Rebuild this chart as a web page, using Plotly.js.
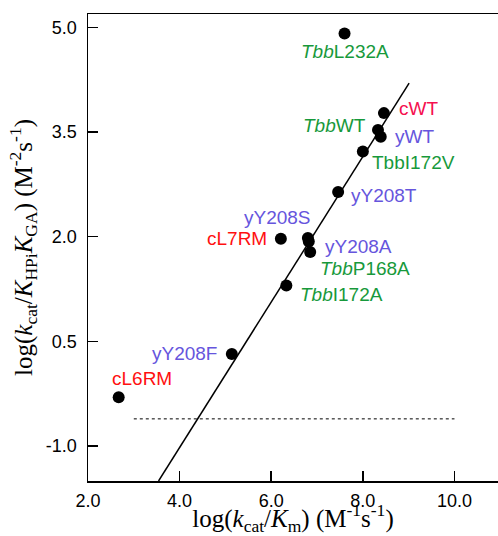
<!DOCTYPE html>
<html><head><meta charset="utf-8">
<script src="https://cdn.plot.ly/plotly-3.0.1.min.js"></script>
<style>html,body{margin:0;padding:0;background:#fff}</style>
</head><body><div id="chart" style="width:498px;height:536px"></div>
<script>
// ---- data ----
const pointNames = ["<i>Tbb</i>L232A","cWT","<i>Tbb</i>WT","yWT","TbbI172V","yY208T","yY208S","cL7RM","yY208A","<i>Tbb</i>P168A","<i>Tbb</i>I172A","yY208F","cL6RM"];
const logKcatKm = [7.60, 8.46, 8.33, 8.39, 8.00, 7.46, 6.80, 6.21, 6.82, 6.85, 6.33, 5.14, 2.67];
const logKcatKK = [4.91, 3.77, 3.53, 3.43, 3.22, 2.64, 1.98, 1.97, 1.93, 1.78, 1.30, 0.32, -0.30];
const groups = ["Tbb","c","Tbb","y","Tbb","y","y","c","y","Tbb","Tbb","y","c"];
const fitX = [3.54, 9.01];
const fitY = [-1.5, 4.20];
const baseX = [3.0, 10.0];
const baseY = [-0.61, -0.61];
const xTickVals = [2, 4, 6, 8, 10];
const xTickText = ["2.0","4.0","6.0","8.0","10.0"];
const yTickVals = [-1.0, 0.5, 2.0, 3.5, 5.0];
const yTickText = ["-1.0","0.5","2.0","3.5","5.0"];

// ---- styles ----
const groupColor = {Tbb:"#17993b", y:"#6655dd", c:"#ff1010"};
const specialColor = {1:"#f5104f"};
const labelPlace = [
  {xa:"center", dx:0, dy:-18},
  {xa:"left", dx:13, dy:5},
  {xa:"right", dx:-10, dy:4},
  {xa:"left", dx:12, dy:0},
  {xa:"left", dx:7, dy:-11},
  {xa:"left", dx:11, dy:-3},
  {xa:"right", dx:5, dy:21},
  {xa:"right", dx:-12, dy:0},
  {xa:"left", dx:14, dy:-5},
  {xa:"left", dx:8, dy:-16},
  {xa:"left", dx:12, dy:-9},
  {xa:"right", dx:-13, dy:0},
  {xa:"center", dx:23, dy:19}
];
const labelFont = "Liberation Sans, Arial, sans-serif";
const serif = "Liberation Serif, Times New Roman, serif";

const traces = [
  {x: fitX, y: fitY, mode:"lines", line:{color:"#000", width:1.5}, hoverinfo:"skip"},
  {x: baseX, y: baseY, mode:"lines", line:{color:"#000", width:1, dash:"dot"}, hoverinfo:"skip"},
  {x: logKcatKm, y: logKcatKK, mode:"markers", marker:{color:"#000", size:12}, cliponaxis:false}
];

const annotations = pointNames.map((n,i)=>({
  x: logKcatKm[i], y: logKcatKK[i], xref:"x", yref:"y",
  text: n, showarrow:false,
  xanchor: labelPlace[i].xa, yanchor:"middle",
  xshift: labelPlace[i].dx, yshift: labelPlace[i].dy,
  font:{family: labelFont, size:19, color: specialColor[i] || groupColor[groups[i]]}
}));

const layout = {
  width:498, height:536,
  margin:{l:88, r:0, t:14, b:55},
  paper_bgcolor:"#fff", plot_bgcolor:"#fff",
  showlegend:false,
  font:{family: labelFont, color:"#000"},
  xaxis:{
    range:[2, 10.95], showgrid:false, zeroline:false,
    showline:true, linecolor:"#000", linewidth:1.5, mirror:true,
    ticks:"inside", ticklen:10, tickwidth:1.5, tickcolor:"#000",
    tickvals: xTickVals, ticktext: xTickText,
    tickfont:{family: labelFont, size:18, color:"#000"},
    ticklabelstandoff: 3,
    title:{text:"log(<i>k</i><sub>cat</sub>/<i>K</i><sub>m</sub>) (M<sup>-1</sup>s<sup>-1</sup>)",
      font:{family: serif, size:25, color:"#000"}, standoff:2}
  },
  yaxis:{
    range:[-1.5, 5.19], showgrid:false, zeroline:false,
    showline:true, linecolor:"#000", linewidth:1.5, mirror:false,
    ticks:"inside", ticklen:10, tickwidth:1.5, tickcolor:"#000",
    tickvals: yTickVals, ticktext: yTickText,
    tickfont:{family: labelFont, size:18, color:"#000"},
    ticklabelstandoff: 6,
    title:{text:"log(<i>k</i><sub>cat</sub>/<i>K</i><sub>HPi</sub><i>K</i><sub>GA</sub>) (M<sup>-2</sup>s<sup>-1</sup>)",
      font:{family: serif, size:25, color:"#000"}, standoff:6}
  },
  annotations: annotations
};

Plotly.newPlot("chart", traces, layout, {staticPlot:true, displayModeBar:false});
</script></body></html>
